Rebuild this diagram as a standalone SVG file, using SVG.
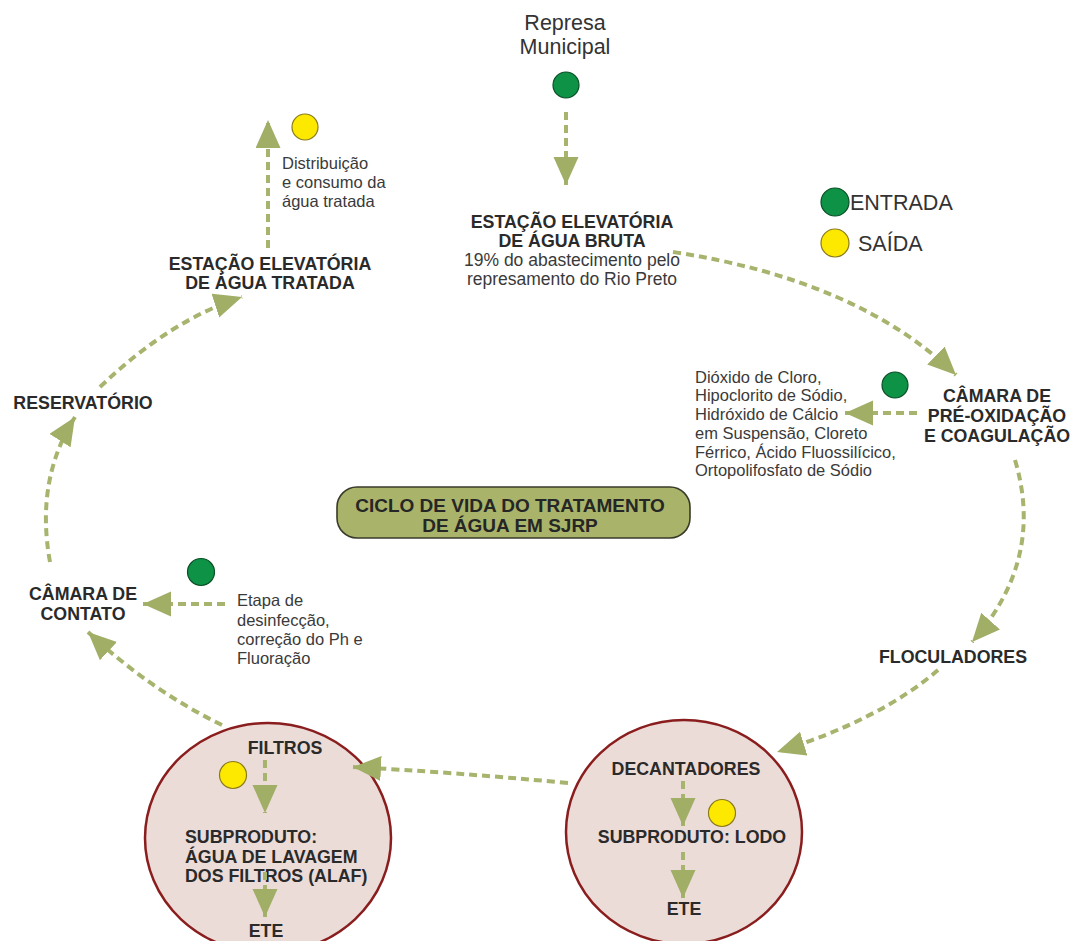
<svg xmlns="http://www.w3.org/2000/svg" width="1074" height="941" viewBox="0 0 1074 941">
  <style>
    .lbl { font-family: "Liberation Sans", Arial, sans-serif; font-weight: bold; font-size: 17.8px; fill: #2a2a2a; }
    .txt { font-family: "Liberation Sans", Arial, sans-serif; font-size: 16.5px; fill: #3a3a3a; }
    .big { font-family: "Liberation Sans", Arial, sans-serif; font-size: 21.5px; fill: #333333; }
    .title { font-family: "Liberation Sans", Arial, sans-serif; font-weight: bold; font-size: 19px; fill: #262626; }
    .flow { fill: none; stroke: #a6b46e; stroke-width: 4; stroke-dasharray: 8 5; marker-end: url(#head); }
    .in { fill: #0e9246; stroke: #0a4f26; stroke-width: 1.2; }
    .out { fill: #fde800; stroke: #8a7a1c; stroke-width: 1.2; }
    .stage { fill: #ecdcd8; stroke: #8a1e1e; stroke-width: 2.5; }
  </style>
  <defs>
    <marker id="head" markerUnits="userSpaceOnUse" markerWidth="30" markerHeight="26" refX="28" refY="12.5" orient="auto">
      <path d="M0,0 L28,12.5 L0,25 Z" fill="#a0ae66"/>
    </marker>
  </defs>

  <rect width="1074" height="941" fill="#ffffff"/>

  <!-- process stages -->
  <g id="represa">
    <text class="big" x="565" y="30" text-anchor="middle">Represa</text>
    <text class="big" x="565" y="54" text-anchor="middle">Municipal</text>
    <circle class="in" cx="566" cy="85" r="13"/>
  </g>

  <g id="legenda">
    <circle class="in" cx="835" cy="202" r="14"/>
    <text class="big" x="850" y="210">ENTRADA</text>
    <circle class="out" cx="835" cy="243" r="14"/>
    <text class="big" x="858" y="251">SAÍDA</text>
  </g>

  <g id="elevatoria-bruta">
    <text class="lbl" x="572" y="228" text-anchor="middle">ESTAÇÃO ELEVATÓRIA</text>
    <text class="lbl" x="572" y="247" text-anchor="middle">DE ÁGUA BRUTA</text>
    <text class="txt" x="572" y="266" text-anchor="middle" style="font-size:17.5px">19% do abastecimento pelo</text>
    <text class="txt" x="572" y="285" text-anchor="middle" style="font-size:17.5px">represamento do Rio Preto</text>
  </g>

  <g id="elevatoria-tratada">
    <text class="lbl" x="270" y="270" text-anchor="middle">ESTAÇÃO ELEVATÓRIA</text>
    <text class="lbl" x="270" y="289" text-anchor="middle">DE ÁGUA TRATADA</text>
    <circle class="out" cx="305" cy="127" r="13"/>
    <text class="txt" x="282" y="169">Distribuição</text>
    <text class="txt" x="282" y="188">e consumo da</text>
    <text class="txt" x="282" y="207">água tratada</text>
  </g>

  <g id="pre-oxidacao">
    <text class="lbl" x="997" y="402" text-anchor="middle">CÂMARA DE</text>
    <text class="lbl" x="997" y="422" text-anchor="middle">PRÉ-OXIDAÇÃO</text>
    <text class="lbl" x="997" y="442" text-anchor="middle">E COAGULAÇÃO</text>
    <circle class="in" cx="895" cy="385" r="13"/>
    <text class="txt" x="695" y="383">Dióxido de Cloro,</text>
    <text class="txt" x="695" y="401">Hipoclorito de Sódio,</text>
    <text class="txt" x="695" y="420">Hidróxido de Cálcio</text>
    <text class="txt" x="695" y="439">em Suspensão, Cloreto</text>
    <text class="txt" x="695" y="458">Férrico, Ácido Fluossilícico,</text>
    <text class="txt" x="695" y="476">Ortopolifosfato de Sódio</text>
  </g>

  <g id="floculadores">
    <text class="lbl" x="953" y="663" text-anchor="middle">FLOCULADORES</text>
  </g>

  <g id="decantadores">
    <ellipse class="stage" cx="684" cy="832" rx="118" ry="112"/>
    <text class="lbl" x="686" y="775" text-anchor="middle">DECANTADORES</text>
    <circle class="out" cx="722" cy="813" r="13.5"/>
    <text class="lbl" x="692" y="843" text-anchor="middle">SUBPRODUTO: LODO</text>
    <text class="lbl" x="684" y="915" text-anchor="middle">ETE</text>
  </g>

  <g id="filtros">
    <ellipse class="stage" cx="268" cy="838" rx="123" ry="115"/>
    <text class="lbl" x="285" y="754" text-anchor="middle">FILTROS</text>
    <circle class="out" cx="233" cy="775" r="13.5"/>
    <text class="lbl" x="185" y="843">SUBPRODUTO:</text>
    <text class="lbl" x="185" y="863">ÁGUA DE LAVAGEM</text>
    <text class="lbl" x="185" y="882">DOS FILTROS (ALAF)</text>
    <text class="lbl" x="266" y="937" text-anchor="middle">ETE</text>
  </g>

  <g id="camara-contato">
    <text class="lbl" x="83" y="600" text-anchor="middle">CÂMARA DE</text>
    <text class="lbl" x="83" y="620" text-anchor="middle">CONTATO</text>
    <circle class="in" cx="201" cy="572" r="13.5"/>
    <text class="txt" x="237" y="606">Etapa de</text>
    <text class="txt" x="237" y="626">desinfecção,</text>
    <text class="txt" x="237" y="645">correção do Ph e</text>
    <text class="txt" x="237" y="664">Fluoração</text>
  </g>

  <g id="reservatorio">
    <text class="lbl" x="83" y="409" text-anchor="middle">RESERVATÓRIO</text>
  </g>

  <g id="titulo">
    <rect x="337" y="487" width="353" height="51" rx="20" fill="#a9b46a" stroke="#3a3a2a" stroke-width="1.6"/>
    <text class="title" x="510" y="512" text-anchor="middle">CICLO DE VIDA DO TRATAMENTO</text>
    <text class="title" x="510" y="532" text-anchor="middle">DE ÁGUA EM SJRP</text>
  </g>

  <!-- connectors -->
  <g id="connectors">
    <path class="flow" d="M566 112 L566 185"/>
    <path class="flow" d="M673 252 Q858 280 956 375"/>
    <path class="flow" d="M917 413 L845 413"/>
    <path class="flow" d="M1015 460 Q1045 560 972 642"/>
    <path class="flow" d="M938 670 Q880 720 777 752"/>
    <path class="flow" d="M683 781 L683 826"/>
    <path class="flow" d="M683 852 L683 898"/>
    <path class="flow" d="M568 783 Q450 772 353 767"/>
    <path class="flow" d="M265 760 L265 813"/>
    <path class="flow" d="M265 872 L265 917"/>
    <path class="flow" d="M222 725 Q150 690 88 632"/>
    <path class="flow" d="M225 604 L143 604"/>
    <path class="flow" d="M50 562 Q35 480 75 417"/>
    <path class="flow" d="M100 387 Q170 320 242 297"/>
    <path class="flow" d="M268 248 L268 120"/>
  </g>
</svg>
